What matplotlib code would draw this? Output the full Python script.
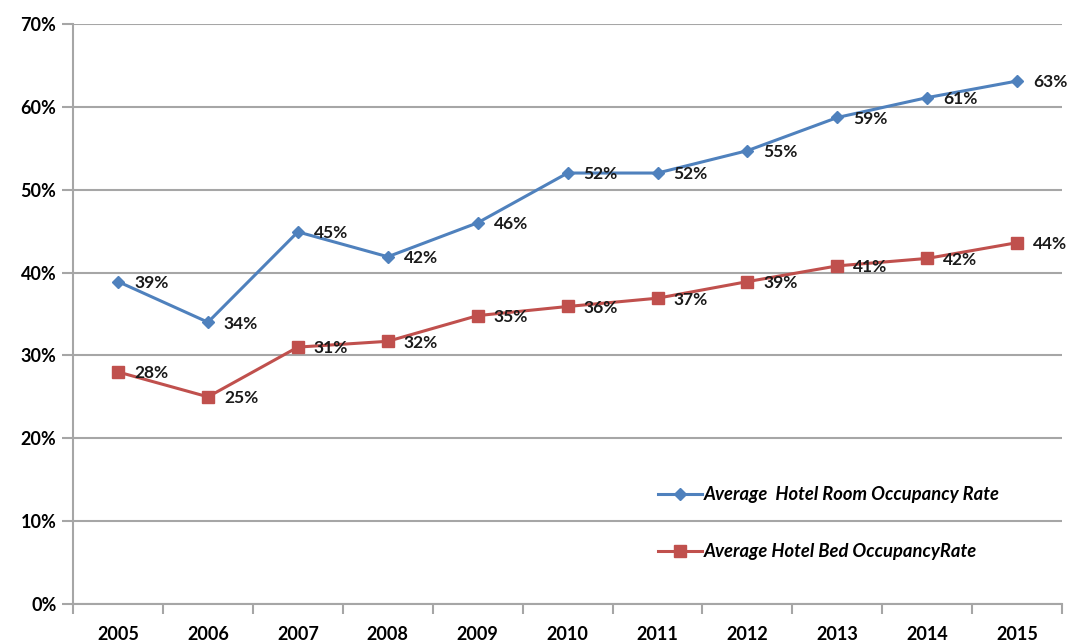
import matplotlib
matplotlib.use('Agg')
import matplotlib.pyplot as plt
from matplotlib.ticker import FuncFormatter

years = [2005, 2006, 2007, 2008, 2009, 2010, 2011, 2012, 2013, 2014, 2015]
room_rate = [38.9, 34.0, 44.9, 41.9, 46.0, 52.0, 52.0, 54.7, 58.7, 61.1, 63.1]
bed_rate = [28.0, 25.0, 31.0, 31.7, 34.8, 35.9, 36.9, 38.9, 40.8, 41.7, 43.6]
room_labels = ['39%', '34%', '45%', '42%', '46%', '52%', '52%', '55%', '59%', '61%', '63%']
bed_labels = ['28%', '25%', '31%', '32%', '35%', '36%', '37%', '39%', '41%', '42%', '44%']

blue = '#4F81BD'
red = '#C0504D'
grid_col = '#A6A6A6'

plt.rcParams['font.family'] = ['Lato', 'DejaVu Sans']

fig = plt.figure(figsize=(10.75, 6.44), dpi=100)
ax = fig.add_axes([0.068, 0.062, 0.92, 0.901])

ax.plot(years, room_rate, color=blue, lw=2.2, marker='D', ms=6.5,
        label='Average  Hotel Room Occupancy Rate')
ax.plot(years, bed_rate, color=red, lw=2.2, marker='s', ms=8.5,
        label='Average Hotel Bed OccupancyRate')

for x, y, t in zip(years, room_rate, room_labels):
    ax.annotate(t, (x, y), xytext=(11.5, -1), textcoords='offset points',
                ha='left', va='center', fontsize=12.5, fontweight='bold', color='#1a1a1a')
for x, y, t in zip(years, bed_rate, bed_labels):
    ax.annotate(t, (x, y), xytext=(11.5, -1), textcoords='offset points',
                ha='left', va='center', fontsize=12.5, fontweight='bold', color='#1a1a1a')

ax.set_xlim(2004.5, 2015.5)
ax.set_ylim(0, 70)
ax.set_yticks(range(0, 71, 10))
ax.yaxis.set_major_formatter(FuncFormatter(lambda v, p: f'{int(v)}%'))
ax.set_xticks(years)
ax.set_xticks([y - 0.5 for y in years] + [2015.5], minor=True)
ax.tick_params(axis='x', which='major', length=0, pad=16, labelsize=13)
ax.tick_params(axis='x', which='minor', length=7, color=grid_col, width=1.5)
ax.tick_params(axis='y', length=8, color=grid_col, width=1.5, pad=4, labelsize=13)
for lab in ax.get_xticklabels() + ax.get_yticklabels():
    lab.set_fontweight('bold')

ax.grid(axis='y', color=grid_col, lw=1.5)
ax.set_axisbelow(True)
for s in ['top', 'right']:
    ax.spines[s].set_visible(False)
ax.spines['left'].set_color(grid_col)
ax.spines['bottom'].set_color(grid_col)
ax.spines['left'].set_linewidth(1.5)
ax.spines['bottom'].set_linewidth(1.5)

leg = ax.legend(loc='upper left', bbox_to_anchor=(0.575, 0.232), frameon=False,
                labelspacing=2.2, handlelength=2.4, handletextpad=0.1,
                prop={'style': 'italic', 'weight': 'bold', 'size': 13.2})

fig.savefig('out.png', dpi=100)
